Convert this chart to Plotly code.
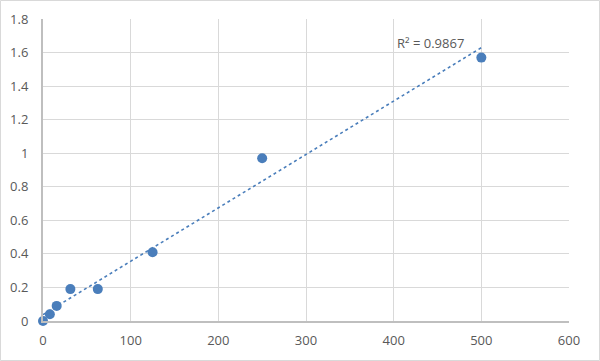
import numpy as np
import plotly.graph_objects as go

conc = [0, 7.8, 15.6, 31.25, 62.5, 125, 250, 500]
od = [0.0, 0.04, 0.09, 0.19, 0.19, 0.41, 0.97, 1.57]
r2_label = "R² = 0.9867"
x_ticks = [0, 100, 200, 300, 400, 500, 600]
y_ticks = [0, 0.2, 0.4, 0.6, 0.8, 1.0, 1.2, 1.4, 1.6, 1.8]
y_tick_text = ["0", "0.2", "0.4", "0.6", "0.8", "1", "1.2", "1.4", "1.6", "1.8"]

slope, intercept = np.polyfit(conc, od, 1)
trend_x = [min(conc), max(conc)]
trend_y = [slope * v + intercept for v in trend_x]

color = "#4a7ebb"
fig = go.Figure()
fig.add_trace(go.Scatter(x=trend_x, y=trend_y, mode="lines",
                         line=dict(color=color, width=1.6, dash="dot"),
                         hoverinfo="skip", showlegend=False, cliponaxis=False))
fig.add_trace(go.Scatter(x=conc, y=od, mode="markers",
                         marker=dict(color=color, size=10),
                         showlegend=False, cliponaxis=False))
fig.add_annotation(x=402, y=1.655, text=r2_label, showarrow=False,
                   xanchor="left", yanchor="middle",
                   font=dict(family="Open Sans", size=13, color="#595959"))

fig.update_layout(
    width=600, height=361,
    margin=dict(l=43, r=31, t=19, b=40),
    paper_bgcolor="white", plot_bgcolor="white",
    font=dict(family="Open Sans", size=13, color="#595959"),
    xaxis=dict(range=[0, 600], tickvals=x_ticks, showgrid=True,
               gridcolor="#d9d9d9", gridwidth=1, zeroline=False,
               showline=True, linecolor="#bfbfbf", linewidth=2,
               ticks="", ticklabelstandoff=6, fixedrange=True, automargin=False),
    yaxis=dict(range=[0, 1.8], tickvals=y_ticks, ticktext=y_tick_text,
               showgrid=True, gridcolor="#d9d9d9", gridwidth=1,
               zeroline=False, showline=True, linecolor="#bfbfbf",
               linewidth=2, ticks="", ticklabelstandoff=10, fixedrange=True,
               automargin=False),
    shapes=[dict(type="rect", xref="paper", yref="paper",
                 x0=-42.5/526, x1=1+30.5/526, y0=-39.5/302, y1=1+18.5/302,
                 line=dict(color="#d9d9d9", width=1))],
)
fig.write_html("out.html", config={"displayModeBar": False},
               post_script="document.body.style.margin='0';document.body.style.overflow='hidden';")
